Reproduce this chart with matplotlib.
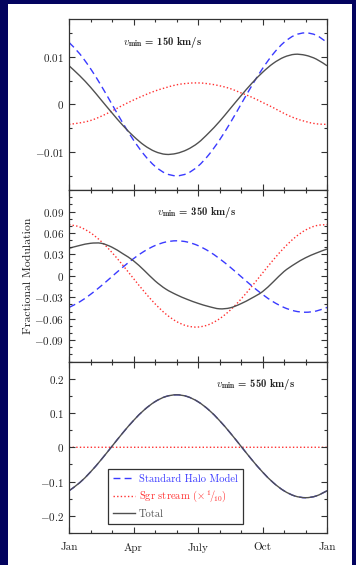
import matplotlib
matplotlib.use("Agg")
import matplotlib.pyplot as plt
import numpy as np
from matplotlib.lines import Line2D
from matplotlib.patches import PathPatch, Rectangle
from matplotlib.path import Path
from matplotlib.ticker import MultipleLocator

plt.rcParams["font.family"] = "cmr10"
plt.rcParams["mathtext.fontset"] = "cm"
plt.rcParams["axes.formatter.use_mathtext"] = True

# months since Jan 1, half-month steps
months = np.arange(0, 12.5, 0.5)
month_ticks = [0, 3, 6, 9, 12]
month_labels = ["Jan", "Apr", "July", "Oct", "Jan"]

# v_min = 150 km/s
shm_150 = [0.0130, 0.0106, 0.0075, 0.0039, 0.0000, -0.0039, -0.0075, -0.0106, -0.0130,
           -0.0145, -0.0150, -0.0145, -0.0130, -0.0106, -0.0075, -0.0039, 0.0000, 0.0039,
           0.0075, 0.0106, 0.0130, 0.0145, 0.0150, 0.0145, 0.0130]
sgr_150 = [-0.0042, -0.0039, -0.0034, -0.0025, -0.0014, -0.0002, 0.0009, 0.0019, 0.0028,
           0.0035, 0.0041, 0.0044, 0.0045, 0.0043, 0.0039, 0.0033, 0.0024, 0.0015,
           0.0004, -0.0007, -0.0019, -0.0029, -0.0036, -0.0041, -0.0042]
tot_150 = [0.0081, 0.0060, 0.0036, 0.0009, -0.0018, -0.0044, -0.0067, -0.0086, -0.0099,
           -0.0105, -0.0103, -0.0095, -0.0081, -0.0060, -0.0036, -0.0009, 0.0018, 0.0044,
           0.0067, 0.0086, 0.0099, 0.0105, 0.0103, 0.0095, 0.0081]

# v_min = 350 km/s
shm_350 = [-0.0443, -0.0364, -0.0260, -0.0140, -0.0010, 0.0120, 0.0240, 0.0344, 0.0423,
           0.0473, 0.0490, 0.0473, 0.0423, 0.0344, 0.0240, 0.0120, -0.0010, -0.0140,
           -0.0260, -0.0364, -0.0443, -0.0493, -0.0510, -0.0493, -0.0443]
sgr_350 = [0.0717, 0.0683, 0.0602, 0.0480, 0.0326, 0.0149, -0.0038, -0.0222, -0.0391,
           -0.0534, -0.0640, -0.0702, -0.0717, -0.0683, -0.0602, -0.0480, -0.0326, -0.0149,
           0.0038, 0.0222, 0.0391, 0.0534, 0.0640, 0.0702, 0.0717]
tot_350 = [0.0385, 0.0425, 0.0455, 0.0455, 0.0400, 0.0310, 0.0210, 0.0075, -0.0070,
           -0.0185, -0.0265, -0.0330, -0.0385, -0.0430, -0.0462, -0.0448, -0.0390, -0.0312,
           -0.0222, -0.0085, 0.0060, 0.0165, 0.0252, 0.0318, 0.0375]

# v_min = 550 km/s
shm_550 = [-0.1269, -0.1031, -0.0720, -0.0359, 0.0030, 0.0419, 0.0780, 0.1091, 0.1329,
           0.1479, 0.1530, 0.1479, 0.1329, 0.1091, 0.0780, 0.0419, 0.0030, -0.0359,
           -0.0720, -0.1031, -0.1269, -0.1419, -0.1470, -0.1419, -0.1269]
sgr_550 = [0.0] * 25
tot_550 = shm_550

panels = [
    ("150", shm_150, sgr_150, tot_150, 0.018, [-0.01, 0, 0.01], 0.005, (0.364, 0.862)),
    ("350", shm_350, sgr_350, tot_350, 0.12, [-0.09, -0.06, -0.03, 0, 0.03, 0.06, 0.09], 0.01, (0.495, 0.868)),
    ("550", shm_550, sgr_550, tot_550, 0.25, [-0.2, -0.1, 0, 0.1, 0.2], 0.05, (0.724, 0.866)),
]

c_shm = "#3a3aff"
c_sgr = "#ff3030"
c_tot = "#505050"
c_frame = "#333333"
sty_sgr = dict(color=c_sgr, ls=(0, (1, 1.6)), lw=1.0)
sty_shm = dict(color=c_shm, ls=(0, (5, 3)), lw=1.0)
sty_tot = dict(color=c_tot, ls="-", lw=1.0)


def smooth_curve(ax, x, y, **kw):
    # Catmull-Rom through the points, drawn as cubic Bezier segments
    pts = np.column_stack([x, y])
    verts, codes = [pts[0]], [Path.MOVETO]
    n = len(pts)
    for i in range(n - 1):
        p0 = pts[i - 1] if i > 0 else pts[i]
        p1, p2 = pts[i], pts[i + 1]
        p3 = pts[i + 2] if i + 2 < n else pts[i + 1]
        verts += [p1 + (p2 - p0) / 6, p2 - (p3 - p1) / 6, p2]
        codes += [Path.CURVE4] * 3
    ax.add_patch(PathPatch(Path(verts, codes), fill=False, color=kw["color"],
                           linestyle=kw["ls"], linewidth=kw["lw"], capstyle="butt"))


fig = plt.figure(figsize=(3.56, 5.65), dpi=100)
fig.patch.set_facecolor("#03035f")
fig.patches.append(Rectangle((8 / 356, 0), 344 / 356, 561 / 565, transform=fig.transFigure,
                             facecolor="white", edgecolor="none", zorder=-10))

left, width, h = 69 / 356, 258 / 356, 0.3035
bottoms = [0.0566 + 2 * h, 0.0566 + h, 0.0566]

for i, (vmin, shm, sgr, tot, lim, yt, ymin, txt) in enumerate(panels):
    ax = fig.add_axes([left, bottoms[i], width, h])
    smooth_curve(ax, months, sgr, **sty_sgr)
    smooth_curve(ax, months, shm, **sty_shm)
    smooth_curve(ax, months, tot, **sty_tot)
    ax.set_xlim(0, 12)
    ax.set_ylim(-lim, lim)
    ax.set_yticks(yt)
    ax.set_yticklabels(["$0$" if v == 0 else "$%g$" % v for v in yt])
    ax.yaxis.set_minor_locator(MultipleLocator(ymin))
    ax.set_xticks(month_ticks)
    ax.xaxis.set_minor_locator(MultipleLocator(1))
    if i == 2:
        ax.set_xticklabels(month_labels)
    else:
        ax.set_xticklabels([])
    ax.tick_params(which="both", direction="in", top=True, right=True, colors=c_frame,
                   labelsize=8, labelcolor="#222222", width=0.8)
    ax.tick_params(which="major", length=4)
    ax.tick_params(which="minor", length=2.3)
    ax.tick_params(axis="x", pad=7)
    for s in ax.spines.values():
        s.set_color(c_frame)
        s.set_linewidth(0.9)
    ax.text(txt[0], txt[1], r"$v_{\mathbf{min}}$" + " = %s km/s" % vmin, family="cmb10",
            transform=ax.transAxes, ha="center", va="center", fontsize=7.7, color="#222222")
    if i == 1:
        ax.set_ylabel("Fractional Modulation", fontsize=8.5, color="#222222")
        ax.yaxis.set_label_coords(-0.14, 0.5)
    if i == 2:
        handles = [Line2D([], [], **sty_shm), Line2D([], [], **sty_sgr), Line2D([], [], **sty_tot)]
        labels = ["Standard Halo Model", r"Sgr stream ($\times\,{}^{1}\!/\!{}_{10}$)", "Total"]
        leg = ax.legend(handles, labels, loc="lower left",
                        bbox_to_anchor=(0.151, 0.053), borderaxespad=0, fontsize=7.6,
                        fancybox=False, edgecolor=c_frame, framealpha=1, handlelength=2.1,
                        handletextpad=0.3, borderpad=0.5, labelspacing=0.45)
        leg.get_frame().set_linewidth(0.9)
        for t, c in zip(leg.get_texts(), [c_shm, c_sgr, c_tot]):
            t.set_color(c)

fig.savefig("out.png", dpi=100, facecolor=fig.get_facecolor())
